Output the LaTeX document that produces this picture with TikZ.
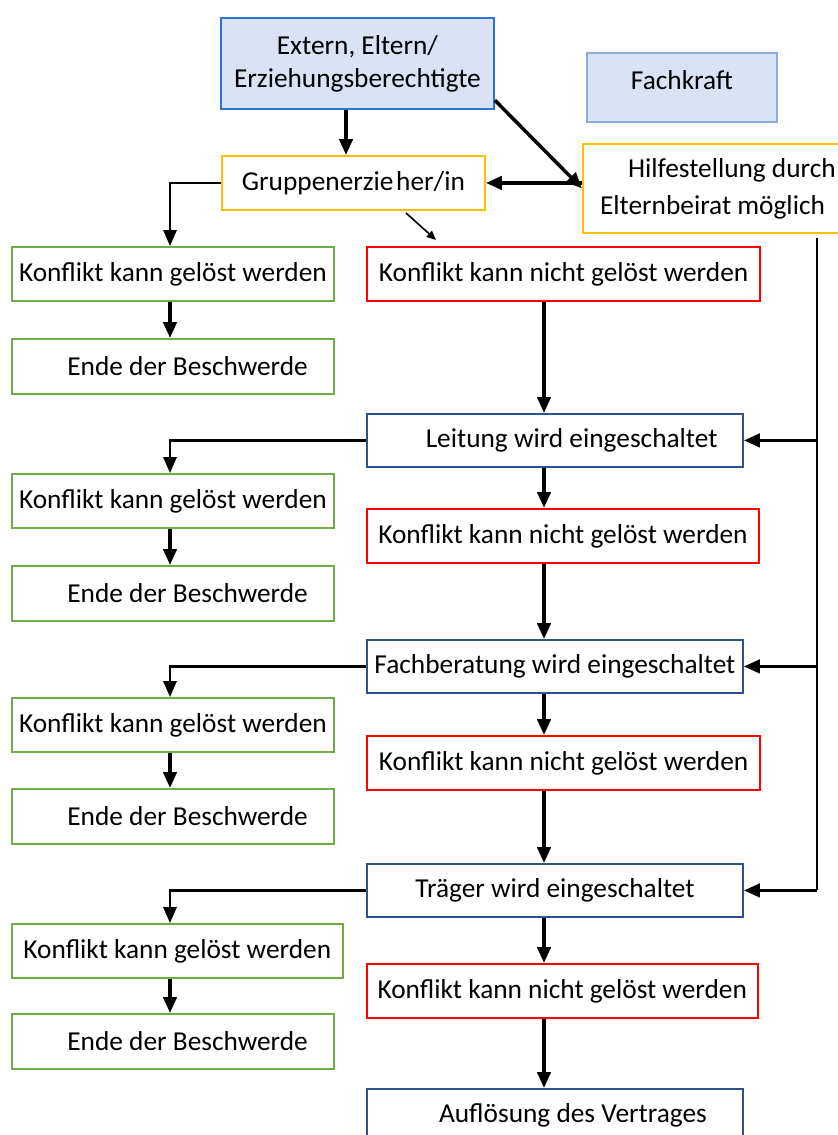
\documentclass[tikz,border=0pt]{standalone}
\usepackage{fontspec}
\setmainfont{Carlito}
\usetikzlibrary{arrows.meta}

\definecolor{hellblau}{RGB}{218,227,243}
\definecolor{blaurand}{RGB}{46,117,210}
\definecolor{hellrand}{RGB}{143,170,220}
\definecolor{dunkelblau}{RGB}{47,82,143}
\definecolor{gold}{RGB}{255,192,0}
\definecolor{gruen}{RGB}{112,173,71}
\definecolor{rot}{RGB}{255,0,0}

\begin{document}
\begin{tikzpicture}[x=0.75pt,y=-0.75pt,
  font=\fontsize{20.5}{24.75}\selectfont,
  box/.style={draw,line width=1.4pt,anchor=north west,inner sep=0pt},
  gruen node/.style={box,draw=gruen,minimum width=241.5pt,minimum height=40.5pt},
  rot node/.style={box,draw=rot,minimum width=295pt,minimum height=40.5pt},
  blau node/.style={box,draw=dunkelblau,minimum width=282pt,minimum height=39.75pt},
  gelb node/.style={box,draw=gold},
  pfeil/.style={-{Triangle[length=12pt,width=10pt]},line width=2.6pt},
  linie/.style={line width=1.6pt}]

  \useasboundingbox (0,0) rectangle (838,1135);

  \node[box,draw=blaurand,fill=hellblau,minimum width=204.75pt,
    minimum height=68.25pt,align=center] (extern) at (220,17) {Extern, Eltern/\\Erziehungsberechtigte};
  \node[box,draw=hellrand,fill=hellblau,minimum width=142.5pt,minimum height=51.75pt,
    text height=15pt,text depth=12pt] (fach) at (586,52) {Fachkraft};
  \node[gelb node,minimum width=197.25pt,minimum height=40.5pt] (gruppe) at (221,155) {Gruppenerzie\kern2pt her/in};
  \node[gelb node,minimum width=202.5pt,minimum height=66.75pt,align=left] (hilfe) at (582,143)
    {\hspace*{21pt}Hilfestellung durch\\[3pt]Elternbeirat möglich};

  \node[gruen node] (ja1) at (11,246) {Konflikt kann gelöst werden};
  \node[gruen node,minimum height=41.25pt] (ende1) at (11,338) {\hspace*{22pt}Ende der Beschwerde};
  \node[gruen node] (ja2) at (11,473) {Konflikt kann gelöst werden};
  \node[gruen node,minimum height=41.25pt] (ende2) at (11,565) {\hspace*{22pt}Ende der Beschwerde};
  \node[gruen node] (ja3) at (11,697) {Konflikt kann gelöst werden};
  \node[gruen node,minimum height=41.25pt] (ende3) at (11,788) {\hspace*{22pt}Ende der Beschwerde};
  \node[gruen node,minimum width=248pt] (ja4) at (11,923) {Konflikt kann gelöst werden};
  \node[gruen node,minimum height=41.25pt] (ende4) at (11,1013) {\hspace*{22pt}Ende der Beschwerde};

  \node[rot node] (nein1) at (366,246) {Konflikt kann nicht gelöst werden};
  \node[blau node] (leitung) at (366,413) {\hspace*{25pt}Leitung wird eingeschaltet};
  \node[rot node,minimum width=294pt] (nein2) at (366,508) {Konflikt kann nicht gelöst werden};
  \node[blau node] (fachb) at (366,639) {Fachberatung wird eingeschaltet};
  \node[rot node] (nein3) at (366,735) {Konflikt kann nicht gelöst werden};
  \node[blau node] (traeger) at (366,863) {Träger wird eingeschaltet};
  \node[rot node,minimum width=293pt] (nein4) at (366,963) {Konflikt kann nicht gelöst werden};
  \node[blau node] (aufl) at (366,1088) {\hspace*{27pt}Auflösung des Vertrages};

  \coordinate (sp0) at (170,0);
  \coordinate (sp1) at (346,0);
  \coordinate (sp2) at (544,0);
  \coordinate (rand) at (817,238);
  \coordinate (t1) at (406,213);
  \coordinate (t2) at (436,240);

  % oben
  \draw[pfeil] (extern.south -| sp1) -- (gruppe.north -| sp1);
  \draw[pfeil] (extern.-15) -- (hilfe.west);
  \draw[pfeil] (hilfe.west |- gruppe.east) -- (gruppe.east);
  \draw[-{Triangle[length=7pt,width=6pt]},line width=1.2pt] (t1) -- (t2);

  % links
  \draw[linie,-{Triangle[length=12pt,width=10pt]}] (gruppe.west) -| (ja1.north -| sp0);
  \draw[linie,-{Triangle[length=12pt,width=10pt]}] (leitung.west) -| (ja2.north -| sp0);
  \draw[linie,-{Triangle[length=12pt,width=10pt]}] (fachb.west) -| (ja3.north -| sp0);
  \draw[linie,-{Triangle[length=12pt,width=10pt]}] (traeger.west) -| (ja4.north -| sp0);
  \draw[pfeil] (ja1.south -| sp0) -- (ende1.north -| sp0);
  \draw[pfeil] (ja2.south -| sp0) -- (ende2.north -| sp0);
  \draw[pfeil] (ja3.south -| sp0) -- (ende3.north -| sp0);
  \draw[pfeil] (ja4.south -| sp0) -- (ende4.north -| sp0);

  % mitte
  \draw[pfeil] (nein1.south -| sp2) -- (leitung.north -| sp2);
  \draw[pfeil] (leitung.south -| sp2) -- (nein2.north -| sp2);
  \draw[pfeil] (nein2.south -| sp2) -- (fachb.north -| sp2);
  \draw[pfeil] (fachb.south -| sp2) -- (nein3.north -| sp2);
  \draw[pfeil] (nein3.south -| sp2) -- (traeger.north -| sp2);
  \draw[pfeil] (traeger.south -| sp2) -- (nein4.north -| sp2);
  \draw[pfeil] (nein4.south -| sp2) -- (aufl.north -| sp2);

  % rechts
  \draw[linie] (rand) -- (rand |- traeger.east);
  \draw[pfeil] (rand |- leitung.east) -- (leitung.east);
  \draw[pfeil] (rand |- fachb.east) -- (fachb.east);
  \draw[pfeil] (rand |- traeger.east) -- (traeger.east);
\end{tikzpicture}
\end{document}
